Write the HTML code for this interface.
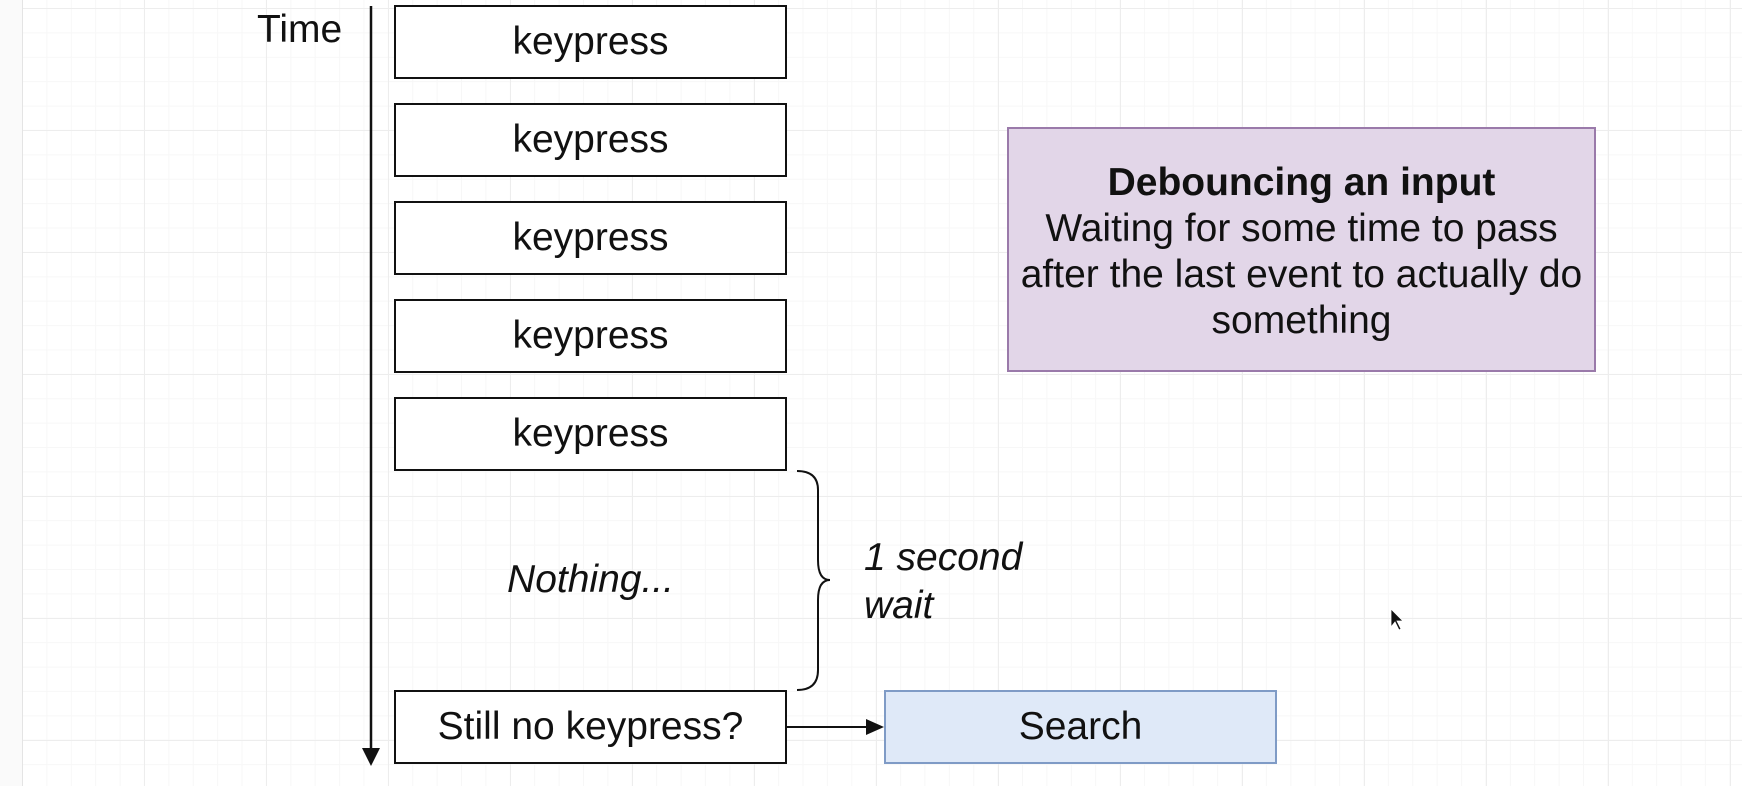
<!DOCTYPE html>
<html><head><meta charset="utf-8"><style>
html,body{margin:0;padding:0}
body{width:1742px;height:786px;overflow:hidden;background:#fff;font-family:"Liberation Sans",Arial,sans-serif;position:relative;
background-image:linear-gradient(#ededed 1px,transparent 1px),linear-gradient(90deg,#ededed 1px,transparent 1px),linear-gradient(#f7f7f7 1px,transparent 1px),linear-gradient(90deg,#f7f7f7 1px,transparent 1px);
background-size:122px 122px,122px 122px,24.4px 24.4px,24.4px 24.4px;background-position:22px 8px,22px 8px,22px 8px,22px 8px}
.b{position:absolute;box-sizing:border-box;border:2px solid #111;background:#fff;display:flex;align-items:center;justify-content:center;font-size:39px;color:#111}
.t{position:absolute;font-size:39px;color:#111}
</style></head><body>
<div style="position:absolute;left:0;top:0;width:22px;height:786px;background:#fafafa;border-right:1px solid #e4e4e4"></div>
<div class="t" style="left:257px;top:8px">Time</div>
<div class="b" style="left:394px;top:5px;width:393px;height:74px">keypress</div>
<div class="b" style="left:394px;top:103px;width:393px;height:74px">keypress</div>
<div class="b" style="left:394px;top:201px;width:393px;height:74px">keypress</div>
<div class="b" style="left:394px;top:299px;width:393px;height:74px">keypress</div>
<div class="b" style="left:394px;top:397px;width:393px;height:74px">keypress</div>
<div class="t" style="left:394px;width:393px;text-align:center;top:558px;font-style:italic">Nothing...</div>
<div class="b" style="left:394px;top:690px;width:393px;height:74px">Still no keypress?</div>
<div class="b" style="left:884px;top:690px;width:393px;height:74px;background:#dfe9f8;border-color:#7f9bc6">Search</div>
<div class="b" style="left:1007px;top:127px;width:589px;height:245px;background:#e2d6e8;border-color:#9a7aaa;flex-direction:column;line-height:46px;text-align:center;font-size:39px;padding-top:4px">
<b>Debouncing an input</b><span>Waiting for some time to pass<br>after the last event to actually do<br>something</span></div>
<div class="t" style="left:864px;top:534px;font-style:italic;line-height:48px">1 second<br>wait</div>
<svg width="1742" height="786" style="position:absolute;left:0;top:0">
<line x1="371" y1="6" x2="371" y2="752" stroke="#111" stroke-width="2.5"/>
<polygon points="362,748 380,748 371,766" fill="#111"/>
<line x1="787" y1="727" x2="870" y2="727" stroke="#111" stroke-width="2"/>
<polygon points="866,719 884,727 866,735" fill="#111"/>
<path d="M797,471 Q818,471 818,490 L818,560 Q818,580 830,580 Q818,580 818,600 L818,670 Q818,690 797,690" fill="none" stroke="#111" stroke-width="2"/>
<path d="M1391,609 L1391,627 L1395,622 L1399,630 L1401,629 L1397,621 L1403,621 Z" fill="#111" stroke="#fff" stroke-width="0.8"/>
</svg>
</body></html>
